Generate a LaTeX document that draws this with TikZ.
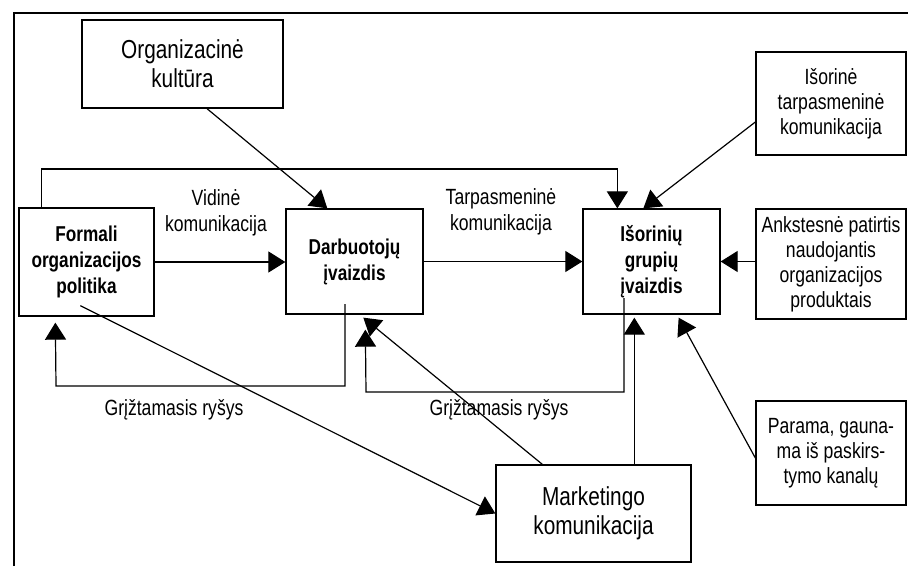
\documentclass[tikz,border=0pt]{standalone}
\usepackage{fontspec}
\setmainfont{Liberation Sans}[FakeStretch=0.8]
\usetikzlibrary{arrows.meta,calc}
\begin{document}
\begin{tikzpicture}[x=1pt,y=-1pt,
  box/.style={draw, line width=1.3pt, inner sep=0pt, align=center},
  arr/.style={line width=1.2pt, -{Triangle[length=17pt,width=21pt]}},
  big/.style={font=\fontsize{26}{29}\selectfont},
  small/.style={font=\fontsize{22}{25}\selectfont},
  bold/.style={font=\fontsize{21.5}{26}\selectfont\bfseries},
  lbl/.style={align=center, inner sep=0pt, font=\fontsize{22}{26}\selectfont}]
\useasboundingbox (0,0) rectangle (908,566);
\draw[line width=1.3pt] (14,566) -- (14,13) -- (908,13);

\node[box,big,minimum width=201pt,minimum height=88pt] (kult) at (182.5,64) {Organizacinė\\kultūra};
\node[box,bold,minimum width=135pt,minimum height=108pt] (formali) at (86.5,262) {Formali\\organizacijos\\politika};
\node[box,bold,minimum width=137pt,minimum height=105pt] (darb) at (354.5,261.5) {Darbuotojų\\įvaizdis};
\node[box,bold,minimum width=137pt,minimum height=105pt] (isor) at (651.5,261.5) {Išorinių\\grupių\\įvaizdis};
\node[box,small,minimum width=150pt,minimum height=103pt] (istarp) at (831,103.5) {Išorinė\\tarpasmeninė\\komunikacija};
\node[box,small,minimum width=150pt,minimum height=110pt] (ankst) at (831,264) {Ankstesnė patirtis\\naudojantis\\organizacijos\\produktais};
\node[box,small,minimum width=150pt,minimum height=104pt] (parama) at (831,453) {Parama, gauna-\\ma iš paskirs-\\tymo kanalų};
\node[box,big,minimum width=195pt,minimum height=97pt] (mark) at (593.5,513.5) {Marketingo\\komunikacija};

\node[lbl] (vid) at (216,213) {Vidinė\\komunikacija};
\node[lbl] (tarp) at (501,212) {Tarpasmeninė\\komunikacija};
\node[lbl] (gr1) at (174,410) {Grįžtamasis ryšys};
\node[lbl] (gr2) at (499,410) {Grįžtamasis ryšys};

\coordinate (tl) at (300,169);
\coordinate (fb1) at (56,386);
\coordinate (fb2) at (366,392);

\draw[arr] ([xshift=24.5pt]kult.south) -- ([xshift=42pt]darb.north west);
\draw[arr] ([xshift=23pt]formali.north west) |- (tl) -| ([xshift=35pt]isor.north west);
\draw[arr] ([yshift=-18.5pt]istarp.west) -- ([xshift=61pt]isor.north west);
\draw[arr] (formali.east) -- (formali.east -| darb.west);
\draw[arr] (darb.east) -- (isor.west);
\draw[arr] (ankst.west |- isor.east) -- (isor.east);
\draw[arr] ([xshift=-9.5pt,yshift=-42.5pt]darb.center) |- (fb1) -- ([xshift=37pt,yshift=-6pt]formali.south west);
\draw[arr] ([xshift=-27.5pt,yshift=-36.5pt]isor.center) |- (fb2) -- ([xshift=80pt,yshift=-15pt]darb.south west);
\draw[arr] ([xshift=47pt]mark.north west) -- ([xshift=78pt,yshift=-3pt]darb.south west);
\draw[arr] ([xshift=139pt]mark.north west) -- ([xshift=52pt,yshift=-3pt]isor.south west);
\draw[arr] ([xshift=62pt,yshift=11pt]formali.south west) -- (mark.west);
\draw[arr] ([yshift=-5pt]parama.west) -- ([xshift=-42pt,yshift=-3pt]isor.south east);
\end{tikzpicture}
\end{document}
